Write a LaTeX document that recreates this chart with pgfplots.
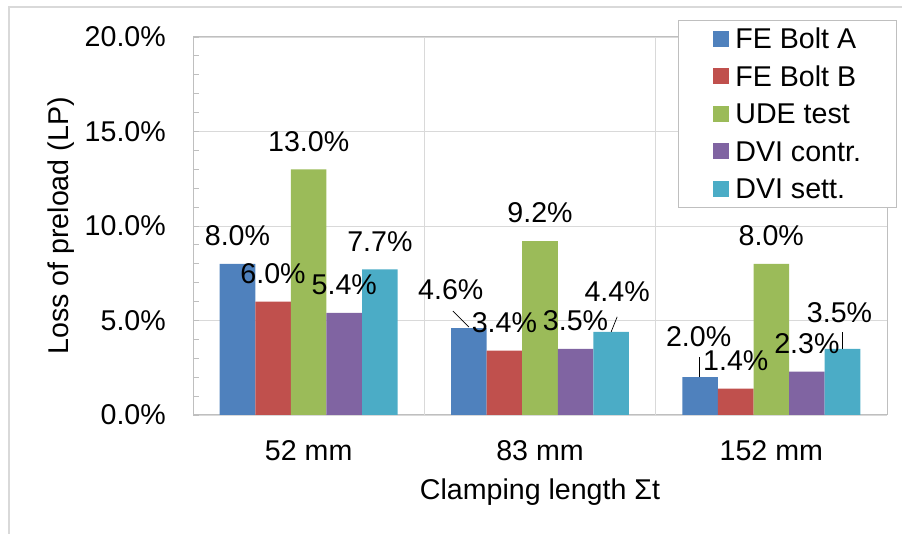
\documentclass[border=0pt]{standalone}
\usepackage{pgfplots}
\pgfplotsset{compat=1.18}
\usepackage{pgfplotstable}
\usepackage{fontspec}
\setmainfont{Liberation Sans}

\newcommand\chartfont{\fontsize{28.6}{33}\selectfont}

\definecolor{cA}{HTML}{4F81BD}
\definecolor{cB}{HTML}{C0504D}
\definecolor{cC}{HTML}{9BBB59}
\definecolor{cD}{HTML}{8064A2}
\definecolor{cE}{HTML}{4BACC6}
\definecolor{gridgray}{HTML}{D9D9D9}
\definecolor{axisgray}{HTML}{BFBFBF}

% loss of preload in percent; dx/dy place each value label relative to its bar top (pt)
\pgfplotstableread{
x y dx dy
0 8.0 0 28
1 4.6 -18 38
2 2.0 -1.5 40
}\tabA
\pgfplotstableread{
x y dx dy
0 6.0 0 28
1 3.4 0 28
2 1.4 0 28
}\tabB
\pgfplotstableread{
x y dx dy
0 13.0 0 28
1 9.2 0 28
2 8.0 0 28
}\tabC
\pgfplotstableread{
x y dx dy
0 5.4 0 28
1 3.5 0 28
2 2.3 0 28
}\tabD
\pgfplotstableread{
x y dx dy
0 7.7 0 28
1 4.4 6 40
2 3.5 -3 36
}\tabE

\begin{document}
\begin{tikzpicture}
\useasboundingbox (0,0) rectangle (902pt,534pt);
\draw[gridgray, line width=2pt] (9pt,0pt) -- (9pt,527pt) -- (902pt,527pt);
\begin{axis}[
  at={(193pt,119pt)}, anchor=south west,
  width=694pt, height=378pt, scale only axis,
  clip=false,
  ybar, bar width=0.1538,
  /pgf/number format/assume math mode=true,
  xmin=-0.5, xmax=2.5,
  ymin=0, ymax=20,
  xtick={0,1,2},
  xticklabels={52 mm,83 mm,152 mm},
  xtick style={draw=none},
  extra x ticks={0.5,1.5},
  extra x tick labels={},
  extra x tick style={grid=major, major tick length=0pt},
  ytick={0,5,10,15,20},
  minor y tick num=4,
  ytick pos=left,
  tick align=inside,
  major tick length=6pt, minor tick length=6pt,
  ymajorgrids,
  grid style={gridgray, line width=0.8pt},
  axis line style={axisgray, line width=1pt},
  tick style={axisgray, line width=0.8pt},
  yticklabel={\pgfmathprintnumber[fixed,fixed zerofill,precision=1]{\tick}\%},
  yticklabel style={font=\chartfont, inner sep=0pt, anchor=east, xshift=-27pt},
  xticklabel style={font=\chartfont, inner sep=0pt, anchor=north, yshift=-25pt, text height=20pt, text depth=0pt},
  xlabel={Clamping length Σt},
  ylabel={Loss of preload (LP)},
  every axis x label/.style={at={(axis description cs:0.5,-0.2037)}, anchor=center, font=\chartfont},
  every axis y label/.style={at={(axis description cs:-0.1902,0.5)}, anchor=center, rotate=90, font=\chartfont},
  legend style={at={(axis description cs:0.6988,1.045)}, anchor=north west,
    draw=axisgray, fill=white, line width=0.8pt,
    inner xsep=35pt, inner ysep=8.5pt, row sep=17.5pt, column sep=6pt,
    nodes={inner sep=0pt, text height=20pt, text depth=0pt, font=\chartfont},
    cells={anchor=west}},
  legend image code/.code={\fill[#1, draw=none] (0pt,-8pt) rectangle (16pt,8pt);},
  label bar/.style={draw=none, fill=none, forget plot,
    visualization depends on={\thisrow{dx} \as \dx},
    visualization depends on={\thisrow{dy} \as \dy},
    nodes near coords={\pgfmathprintnumber[fixed,fixed zerofill,precision=1]{\pgfplotspointmeta}\%},
    nodes near coords style={font=\chartfont, text=black, inner sep=0pt, anchor=south,
      text height=20pt, text depth=0pt, xshift=\dx pt, yshift=\dy pt-10pt}},
]
% bars
\addplot[fill=cA, draw=none, bar shift=-0.3077] table[x=x, y=y] {\tabA};
\addplot[fill=cB, draw=none, bar shift=-0.1538] table[x=x, y=y] {\tabB};
\addplot[fill=cC, draw=none, bar shift=0]       table[x=x, y=y] {\tabC};
\addplot[fill=cD, draw=none, bar shift=0.1538]  table[x=x, y=y] {\tabD};
\addplot[fill=cE, draw=none, bar shift=0.3077]  table[x=x, y=y] {\tabE};
% value labels, drawn after all bars so they stay on top
\addplot[label bar, bar shift=-0.3077] table[x=x, y=y] {\tabA};
\addplot[label bar, bar shift=-0.1538] table[x=x, y=y] {\tabB};
\addplot[label bar, bar shift=0]       table[x=x, y=y] {\tabC};
\addplot[label bar, bar shift=0.1538]  table[x=x, y=y] {\tabD};
\addplot[label bar, bar shift=0.3077]  table[x=x, y=y] {\tabE};
% leader lines of the moved labels
\draw[black, line width=0.7pt] (axis cs:0.6923,4.6) ++(0pt,1pt) -- ++(-16pt,16pt);
\draw[black, line width=0.7pt] (axis cs:1.3077,4.4) -- ++(6pt,15pt);
\draw[black, line width=0.7pt] (axis cs:1.6923,2.0) ++(-1pt,0pt) -- ++(0pt,20pt);
\draw[black, line width=0.7pt] (axis cs:2.3077,3.5) -- ++(0pt,17pt);
\legend{FE Bolt A, FE Bolt B, UDE test, DVI contr., DVI sett.}
\end{axis}
\end{tikzpicture}
\end{document}
